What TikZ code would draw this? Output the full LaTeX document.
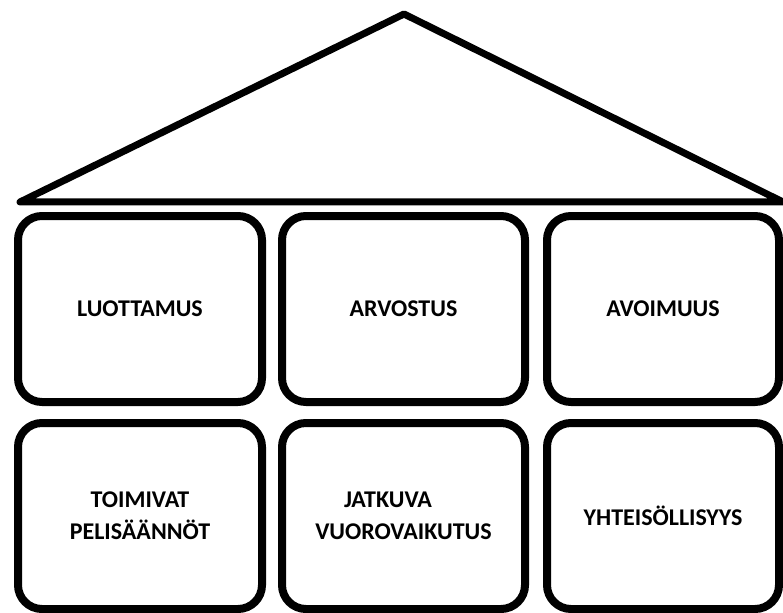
\documentclass[tikz,border=0pt]{standalone}
\usepackage{fontspec}
\setmainfont{Carlito}
\usetikzlibrary{positioning}
\tikzset{
  roofline/.style={draw=black, line width=7pt, line join=round},
  pillar/.style={rectangle, draw=black, line width=8pt, rounded corners=24pt, inner sep=0pt, align=center, minimum height=186pt, font=\fontsize{24}{32}\selectfont\bfseries}
}

\begin{document}
\begin{tikzpicture}[x=1pt, y=-1pt]
    \useasboundingbox (0,0) rectangle (783,612);

    % Roof
    \coordinate (apex) at (404,14);
    \coordinate (eaveL) at (20,202);
    \coordinate (eaveR) at (783,202);
    \draw[roofline] (eaveL) -- (apex) -- (eaveR) -- cycle;

    % Upper row
    \node[pillar, minimum width=244pt] (trust) at (140,309) {LUOTTAMUS};
    \node[pillar, minimum width=243pt] (respect) at (403.5,309) {ARVOSTUS};
    \node[pillar, minimum width=232pt] (open) at (663,309) {AVOIMUUS};

    % Lower row
    \node[pillar, minimum width=244pt] (rules) at (140,516) {TOIMIVAT\\PELISÄÄNNÖT};
    \node[pillar, minimum width=243pt] (dialog) at (403.5,516) {JATKUVA\hspace*{31pt}\\VUOROVAIKUTUS};
    \node[pillar, minimum width=232pt] (community) at (663,516) {YHTEISÖLLISYYS};
\end{tikzpicture}
\end{document}
